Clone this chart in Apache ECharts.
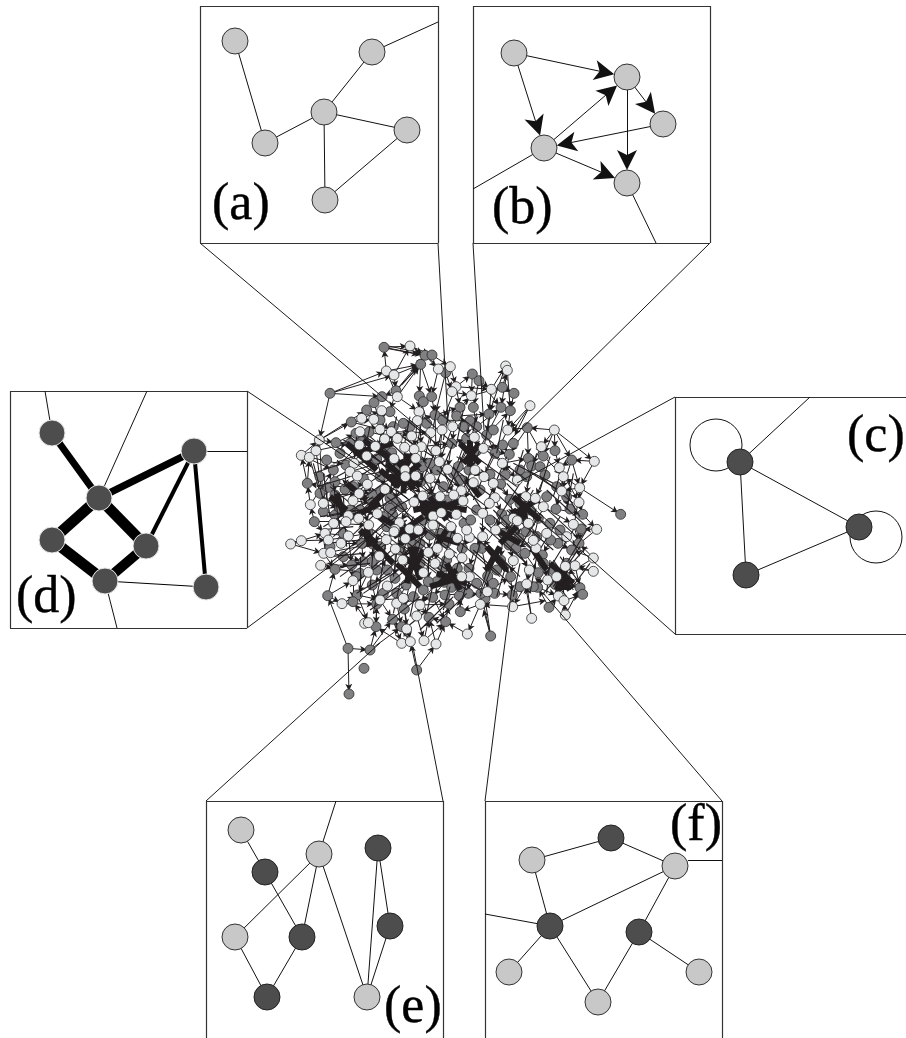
<!DOCTYPE html>
<html><head><meta charset="utf-8">
<script src="https://cdn.jsdelivr.net/npm/echarts@6/dist/echarts.min.js"></script>
<style>html,body{margin:0;padding:0;background:#fff}#c{width:906px;height:1038px}</style></head>
<body><div id="c"></div>
<script>
// ---- panel boxes: x0,y0,x1,y1 segments (page units)
const boxSegments = [
 200,6,438,6, 200,6,200,243, 438,6,438,243, 200,243,438,243,
 473,6,710,6, 473,6,473,243, 710,6,710,243, 473,243,710,243,
 675,397,906,397, 675,397,675,634, 675,634,906,634,
 10,391,247,391, 10,391,10,628, 247,391,247,628, 10,628,247,628,
 206,801,443,801, 206,801,206,1038, 443,801,443,1038,
 485,801,722,801, 485,801,485,1038, 722,801,722,1038];
const connectors = [
 200,243,430,437, 438,243,448,423, 473,243,484,430, 710,243,510,440,
 675,397,517,483, 675,634,513,490, 247,391,407,498, 247,628,408,508,
 206,801,380,643, 443,801,413,647, 485,801,512,587, 722,801,543,593];
// ---- panel nodes
const lightPanelNodes = [[235,41],[265,143],[324,112],[372,52],[407,130],[325,200],
 [514,53],[627,77],[663,124],[544,148],[627,183],
 [241,830],[319,854],[235,937],[367,997],
 [532,860],[675,866],[509,972],[598,1002],[699,972]];
const darkPanelNodes = [[740,462],[859,527],[746,575],
 [265,872],[378,848],[390,926],[302,937],[267,997],
 [611,838],[550,926],[639,932]];
const weightNodes = [[52,433],[194,451],[99,498],[52,540],[146,546],[105,581],[206,587]];
const selfLoops = [[716,445],[876,537]];
const plainPanelEdges = [
 235,41,265,143, 265,143,324,112, 324,112,372,52, 372,52,438,22, 324,112,407,130, 324,112,325,200, 325,200,407,130,
 544,148,473,189, 627,183,656,243,
 740,462,859,527, 740,462,746,575, 859,527,746,575, 740,462,810,397,
 241,830,265,872, 265,872,302,937, 319,854,302,937, 319,854,235,937, 319,854,336,801, 319,854,367,997,
 235,937,267,997, 302,937,267,997, 378,848,390,926, 378,848,367,997, 390,926,367,997,
 532,860,611,838, 611,838,675,866, 532,860,550,926, 675,866,550,926, 675,866,639,932, 550,926,485,914,
 550,926,509,972, 550,926,598,1002, 598,1002,639,932, 639,932,699,972, 688,860,722,860,
 52,433,45,391, 99,498,147,391, 194,451,247,451, 105,581,117,628];
const arrowPanelEdges = [514,53,627,77, 514,53,544,148, 544,148,627,77, 627,77,663,124, 663,124,544,148, 627,77,627,183, 544,148,627,183];
const weightEdges = [[52,433,99,498,7],[99,498,194,451,7],[99,498,52,540,11],[99,498,146,546,11],[52,540,105,581,11],[146,546,105,581,10],[194,451,146,546,4],[194,451,206,587,4],[105,581,206,587,1]];
const panelLabels = [["(a)",212,205],["(b)",492,209],["(c)",847,437],["(d)",16,598],["(e)",384,1008],["(f)",670,826]];

// ---- central network, read in units of 1/3 page pixel
const lightNodes = [[390,48],[475,117],[511,110],[319,123],[342,135],[677,108],[682,121],[528,170],[516,185],[634,178],[574,197],[352,200],[750,227],[417,245],[305,242],[245,265],[281,268],[412,272],[823,300],[683,300],[118,330],[452,308],[486,300],[518,290],[583,322],[300,298],[240,305],[334,305],[314,327],[352,325],[286,349],[395,318],[424,350],[402,358],[374,352],[64,376],[88,382],[108,362],[610,355],[468,362],[260,378],[238,345],[222,400],[210,425],[232,438],[342,386],[407,385],[375,420],[376,440],[407,438],[450,445],[478,395],[503,418],[612,440],[667,400],[784,350],[838,413],[943,394],[850,440],[899,473],[712,450],[580,458],[544,482],[521,495],[585,420],[645,503],[628,520],[428,498],[402,516],[315,478],[262,463],[237,491],[219,512],[130,520],[91,524],[205,557],[236,565],[292,551],[198,575],[161,580],[135,610],[145,630],[64,632],[32,642],[131,670],[152,668],[122,706],[183,640],[205,618],[266,585],[358,578],[345,598],[342,605],[389,597],[415,600],[459,558],[484,548],[513,590],[529,553],[608,550],[549,513],[459,585],[376,626],[319,629],[346,657],[298,678],[368,690],[265,727],[445,667],[472,655],[465,700],[430,728],[532,625],[568,622],[546,683],[508,672],[568,740],[545,740],[700,692],[748,720],[768,655],[760,631],[700,565],[745,580],[712,572],[647,600],[608,620],[766,505],[737,500],[845,483],[897,517],[880,583],[950,598],[940,684],[940,724],[885,707],[856,709],[803,750],[835,798],[852,812],[856,855],[740,762],[698,830],[755,865],[601,823],[622,785],[562,912],[186,821],[254,880],[265,878],[219,752],[322,768],[350,820],[420,825],[410,858],[380,897],[365,940],[391,935],[432,932],[468,942],[370,805],[300,810],[830,740],[790,530],[640,460],[800,610],[860,620],[560,600],[480,500]];
const grayNodes = [[312,52],[435,76],[456,75],[422,103],[497,128],[150,190],[348,182],[306,200],[282,218],[260,240],[214,276],[330,245],[418,198],[430,215],[455,200],[465,255],[577,132],[597,152],[667,172],[702,190],[691,242],[663,232],[540,232],[580,232],[627,252],[570,273],[530,258],[488,270],[590,290],[742,293],[620,315],[560,325],[515,340],[590,362],[645,370],[688,373],[668,345],[745,385],[790,378],[825,362],[875,390],[755,408],[795,435],[168,338],[210,340],[228,310],[267,306],[245,335],[315,350],[335,368],[290,387],[160,420],[198,405],[145,472],[165,455],[82,460],[165,495],[195,478],[130,545],[103,575],[165,555],[180,535],[278,495],[278,520],[303,484],[330,505],[350,517],[330,535],[395,458],[422,455],[428,410],[346,420],[490,470],[520,430],[535,410],[567,420],[630,433],[662,462],[676,435],[690,508],[665,552],[720,520],[775,565],[828,537],[870,537],[908,553],[903,597],[897,640],[875,660],[834,640],[812,630],[738,605],[670,610],[717,625],[687,645],[708,655],[735,670],[787,675],[790,700],[775,728],[855,738],[825,763],[900,773],[908,793],[807,832],[773,772],[697,795],[692,740],[662,690],[623,738],[615,805],[603,790],[644,790],[565,790],[538,797],[605,655],[585,655],[547,655],[498,638],[450,615],[395,640],[430,570],[465,505],[458,505],[525,545],[552,580],[572,570],[490,710],[470,755],[493,757],[515,772],[532,715],[567,715],[445,755],[392,745],[378,765],[345,745],[322,720],[250,695],[277,695],[215,705],[165,718],[143,797],[232,795],[219,815],[277,765],[290,822],[373,837],[458,802],[495,795],[507,822],[541,845],[497,875],[447,862],[338,868],[365,890],[288,890],[204,955],[270,960],[252,1015],[410,1020],[207,1092],[632,918],[1022,553],[265,610],[245,640],[278,642],[320,590],[338,555],[420,640],[400,690],[420,700],
 [300,440],[250,445],[220,470],[240,540],[210,540],[310,560],[365,530],[500,510],[540,450],[600,480],[590,540],[630,570],[680,570],[700,600],[750,540],[800,500],[830,470],[860,500],[810,580],[840,600],[770,620],[860,700],[820,720],[760,770],[720,770],[650,720],[640,760],[590,760],[540,770],[500,690],[480,610],[510,620],[420,670],[360,660],[300,650],[240,730],[290,720],[310,790],[350,790],[400,800],[430,780],[340,290],[390,290],[440,280],[550,290],[640,300],[700,340],[720,420],[780,410],[740,440],[470,420],[450,400],[300,270],[370,280],[180,370],[140,390],[120,440],[120,490],[190,610],[150,650],[190,680],[230,740]];
const outerEdges = [
 312,52,390,48, 312,52,435,76, 325,48,432,70, 320,55,425,75, 390,48,435,76, 390,48,456,75, 319,123,312,52, 342,135,390,48, 342,135,422,103, 348,182,422,103, 352,200,422,103, 348,182,435,76, 319,123,422,103, 358,170,418,108, 365,165,425,100, 422,103,418,198, 435,76,475,117, 456,75,511,110, 435,76,497,128, 422,103,455,200, 475,117,455,200, 497,128,516,185, 511,110,497,128, 497,128,465,255, 511,110,528,170, 150,190,319,123, 150,190,342,135, 150,190,306,200, 150,190,118,330, 118,330,214,276, 118,330,260,240, 342,135,348,182, 319,123,352,200, 348,182,306,200, 306,200,282,218, 348,182,330,245, 418,198,417,245, 455,200,465,255, 430,215,412,272, 418,198,452,308,
 528,170,577,132, 577,132,597,152, 597,152,634,178, 528,170,634,178, 516,185,574,197, 574,197,667,172, 577,132,574,197, 597,152,580,232, 634,178,677,108, 667,172,682,121, 682,121,663,232, 677,108,627,252, 682,121,691,242, 702,190,691,242, 667,172,702,190, 634,178,627,252, 597,152,663,232, 540,232,574,197, 528,170,540,232, 528,170,488,270, 574,197,530,258, 580,232,590,290, 627,252,620,315, 663,232,620,315, 691,242,683,300, 750,227,683,300, 750,227,690,315, 750,227,700,325, 742,293,683,300, 742,293,688,373, 742,293,745,385, 742,293,790,378, 823,300,742,293, 823,300,790,378, 823,300,875,390, 823,300,943,394, 823,300,825,362, 823,300,784,350, 943,394,875,390, 943,394,899,473, 875,390,899,473, 875,390,838,413, 899,473,1022,553, 899,473,850,440, 899,473,845,483, 899,473,897,517,
 897,517,908,553, 908,553,950,598, 950,598,903,597, 903,597,897,640, 950,598,875,660, 940,684,875,660, 940,684,897,640, 940,724,885,707, 940,684,855,738, 940,724,856,709, 908,793,900,773, 900,773,855,738, 856,855,900,773, 856,855,852,812, 852,812,908,793, 835,798,825,763, 807,832,835,798, 807,832,773,772, 740,762,698,830, 755,865,740,762, 755,865,735,760, 698,830,807,810, 698,830,697,795, 698,830,601,823, 601,823,615,805, 601,823,562,912, 562,912,497,875, 632,918,603,790, 632,918,615,805, 632,918,608,830, 601,823,541,845,
 541,845,538,797, 497,875,507,822, 497,875,447,862, 468,942,497,875, 468,942,447,862, 432,932,497,875, 432,932,447,862, 391,935,338,868, 365,940,288,890, 391,935,365,890, 270,960,365,890, 270,960,338,868, 270,960,288,890, 204,955,270,960, 204,955,143,797, 204,955,207,1092, 410,1020,391,935, 410,1020,468,942, 254,880,288,890, 265,878,219,815, 143,797,186,821, 143,797,165,718, 186,821,232,795, 288,890,290,822,
 122,706,165,718, 165,718,250,695, 131,670,165,718, 32,642,64,632, 64,632,135,610, 64,632,145,630, 32,642,131,670, 103,575,135,610, 103,575,91,524, 91,524,82,460, 82,460,64,376, 82,460,88,382, 64,376,118,330, 88,382,108,362, 108,362,118,330, 108,362,130,520, 118,330,130,520, 88,382,130,520, 91,524,160,420, 145,472,82,460, 118,330,168,338, 108,362,210,340, 64,376,160,420, 88,382,198,405];
const innerEdges = [
 168,338,228,310, 168,338,245,335, 210,340,267,306, 228,310,315,350, 245,335,335,368, 267,306,352,325, 214,276,300,298, 260,240,334,305, 282,218,314,327, 330,245,395,318, 417,245,424,350, 412,272,402,358, 465,255,468,362, 488,270,478,395, 530,258,515,340, 570,273,560,325, 590,290,590,362, 620,315,645,370, 668,345,688,373, 683,300,612,440, 620,315,567,420, 560,325,520,430, 515,340,503,418, 452,308,428,410, 486,300,450,445, 518,290,478,395, 583,322,535,410,
 160,420,238,345, 198,405,286,349, 222,400,290,387, 210,425,342,386, 232,438,346,420, 145,472,262,463, 165,455,278,495, 165,495,237,491, 195,478,303,484, 219,512,278,520, 130,545,205,557, 165,555,236,565, 180,535,292,551, 130,520,180,535, 103,575,198,575, 161,580,266,585, 135,610,205,618, 145,630,265,610, 183,640,245,640, 131,670,278,642, 152,668,250,695, 122,706,215,705, 205,618,215,705, 198,575,183,640, 161,580,131,670, 165,495,161,580, 145,472,130,545, 160,420,165,495, 198,405,195,478,
 290,387,315,478, 335,368,375,420, 374,352,376,440, 402,358,407,438, 424,350,422,455, 407,385,395,458, 342,386,330,505, 346,420,350,517, 315,478,338,555, 303,484,320,590, 278,520,292,551, 262,463,278,495, 237,491,266,585, 395,458,428,498, 422,455,465,505, 450,445,458,505, 428,410,490,470, 478,395,521,495, 503,418,544,482, 520,430,580,458, 535,410,612,440, 567,420,630,433, 585,420,662,462, 612,440,640,460, 630,433,645,503, 667,400,676,435, 645,370,712,450, 688,373,676,435, 745,385,712,450, 755,408,737,500, 795,435,766,505, 790,378,850,440, 825,362,838,413, 875,390,845,483, 838,413,897,517, 850,440,828,537, 845,483,870,537, 828,537,908,553, 790,530,880,583, 775,565,860,620, 766,505,790,530, 737,500,775,565, 720,520,745,580, 690,508,700,565, 662,462,690,508, 645,503,665,552, 628,520,608,550, 580,458,549,513, 544,482,529,553, 521,495,525,545, 480,500,484,548, 465,505,459,558, 428,498,430,570, 402,516,358,578, 350,517,338,555, 330,535,345,598, 338,555,389,597,
 389,597,415,600, 415,600,450,615, 459,585,498,638, 513,590,532,625, 552,580,568,622, 572,570,560,600, 608,550,608,620, 665,552,647,600, 700,565,670,610, 712,572,717,625, 745,580,738,605, 775,565,760,631, 800,610,812,630, 860,620,834,640, 880,583,897,640, 903,597,875,660, 834,640,875,660, 812,630,787,675, 768,655,735,670, 760,631,708,655, 738,605,687,645, 670,610,662,690, 647,600,605,655, 608,620,585,655, 568,622,547,655, 532,625,546,683, 498,638,472,655, 450,615,445,667, 420,640,400,690, 395,640,368,690, 376,626,346,657, 319,629,298,678, 320,590,278,642, 342,605,319,629, 345,598,376,626, 265,610,245,640, 266,585,265,610,
 245,640,250,695, 278,642,277,695, 298,678,322,720, 346,657,345,745, 368,690,392,745, 400,690,378,765, 420,700,430,728, 445,667,445,755, 472,655,465,700, 465,700,490,710, 490,710,470,755, 508,672,493,757, 546,683,532,715, 532,715,515,772, 567,715,568,740, 585,655,567,715, 605,655,623,738, 662,690,692,740, 687,645,700,692, 700,692,692,740, 708,655,748,720, 735,670,775,728, 787,675,790,700, 790,700,803,750, 856,709,855,738, 885,707,900,773, 830,740,825,763, 855,738,835,798, 775,728,773,772, 748,720,740,762, 692,740,697,795, 623,738,622,785, 568,740,565,790, 545,740,538,797, 515,772,495,795, 493,757,458,802, 470,755,420,825, 445,755,410,858, 392,745,373,837, 378,765,350,820, 345,745,322,768, 322,720,277,765, 265,727,232,795, 250,695,219,752, 215,705,219,752, 219,752,219,815, 277,765,290,822, 322,768,300,810, 300,810,338,868, 350,820,365,890, 370,805,380,897, 420,825,447,862, 458,802,497,875, 410,858,432,932, 373,837,391,935, 338,868,365,940, 290,822,288,890, 232,795,265,878,
 165,718,265,727, 143,797,219,752, 186,821,290,822, 232,795,300,810, 300,810,370,805, 350,820,458,802, 420,825,507,822, 495,795,565,790, 538,797,603,790, 615,805,644,790, 644,790,697,795, 622,785,692,740, 697,795,740,762, 773,772,835,798, 803,750,900,773, 740,762,803,750,
 214,276,281,268, 245,265,305,242, 281,268,330,245, 352,200,417,245, 412,272,465,255, 465,255,540,232, 488,270,570,273, 530,258,627,252, 590,290,663,232, 620,315,691,242, 300,298,395,318, 334,305,452,308, 424,350,515,340, 468,362,560,325, 590,362,668,345, 610,355,688,373, 667,400,745,385, 784,350,755,408];
// crowded strands in the core, drawn without arrowheads
const coreStrands = [
 170,350,300,440, 190,330,310,400, 210,320,330,420, 230,300,350,390, 250,350,380,470, 270,320,400,430, 290,300,420,420, 320,300,440,400, 350,310,460,380, 160,400,280,360, 170,440,300,370, 190,470,330,380, 210,500,350,400, 240,510,380,410, 270,520,410,430, 300,530,430,450, 330,540,460,470,
 150,470,260,560, 130,500,270,600, 140,560,290,530, 130,590,280,500, 160,620,300,490, 180,650,320,520, 210,680,350,540, 240,700,380,570, 270,720,410,590, 300,740,440,610, 330,760,470,640, 150,700,260,610, 180,740,320,640, 210,770,360,660, 250,790,400,690, 290,810,430,720,
 230,560,380,680, 260,540,410,660, 290,520,440,640, 320,500,470,620, 350,480,500,600, 380,470,530,590, 410,460,560,570, 440,440,590,550, 470,420,620,530, 500,400,650,510, 530,380,680,490, 560,360,710,470, 590,340,740,450,
 400,520,560,640, 370,550,530,670, 340,580,500,700, 310,610,470,730, 360,640,520,760, 400,660,560,780, 440,680,600,780, 480,640,620,760, 520,620,660,740, 560,600,700,720, 600,580,740,700, 640,560,780,680, 680,540,820,660, 720,520,860,640,
 760,500,890,620, 800,480,920,590, 840,460,900,560, 780,440,880,520, 740,420,850,490, 700,400,820,460, 680,460,800,590, 660,500,780,620, 640,540,760,660, 620,580,740,700, 600,620,720,740, 580,660,700,770,
 720,460,640,590, 760,480,680,610, 800,520,720,650, 840,560,760,690, 880,600,800,730, 900,650,820,770, 870,700,790,790, 820,690,880,780, 780,700,860,800, 840,680,900,760,
 480,330,420,470, 520,340,460,480, 560,350,500,490, 600,360,540,500, 640,370,580,510, 680,380,620,520, 440,350,520,470, 480,380,560,500, 520,410,600,530, 400,400,480,520, 360,420,440,540, 320,460,400,580,
 400,560,360,700, 440,570,400,710, 480,580,440,720, 520,590,480,730, 560,610,520,750, 600,640,560,780, 640,660,600,790, 360,600,340,740, 320,620,300,760, 280,650,270,780, 240,680,240,800,
 430,250,410,350, 470,240,450,340, 510,230,490,330, 550,240,530,340, 590,250,570,350, 630,260,610,360, 670,270,650,370, 390,260,370,360, 350,260,330,350, 310,280,290,370, 270,290,250,380, 230,320,220,420, 430,260,530,350, 480,250,590,340, 540,260,640,340, 380,270,480,350, 330,290,420,360,
 230,790,330,730, 270,840,370,770, 320,880,420,800, 370,900,480,810, 420,900,520,800, 470,880,560,790, 280,850,300,750, 340,850,360,760, 390,860,410,770, 440,850,460,760, 490,840,510,770, 540,830,560,760, 600,800,640,700, 650,800,680,700, 700,800,720,700, 750,790,770,680, 800,790,810,690, 850,790,850,680,
 100,430,190,400, 110,470,210,440, 120,520,220,490, 120,560,230,540, 120,600,220,590, 140,640,240,630, 150,680,250,670, 180,710,270,700, 100,400,130,510, 130,430,150,560, 160,460,180,600, 190,500,200,650,
 730,360,700,460, 770,370,740,470, 810,380,780,480, 850,400,820,500, 880,430,860,540, 900,480,880,600, 920,600,860,700, 920,650,850,730, 930,700,870,780];
const coreBundles = [
 340,380,420,470, 350,460,420,400, 360,390,400,480, 330,440,430,440, 380,370,370,490, 320,400,400,470, 400,370,340,470, 250,330,350,400, 220,370,340,340, 300,420,360,470, 200,340,290,420,
 420,520,560,540, 430,550,550,510, 400,500,520,560, 450,500,500,570, 480,500,440,570, 400,540,500,520,
 390,650,420,750, 370,680,440,730, 400,720,430,660, 350,700,420,770, 410,650,380,760,
 470,730,560,760, 500,700,540,780, 450,770,550,740, 480,760,530,720,
 700,500,780,570, 690,560,770,510, 720,490,740,590, 700,540,760,590, 650,600,720,640, 660,640,710,590,
 830,720,870,780, 850,710,850,780, 810,700,880,760, 860,710,830,780,
 240,600,290,640, 260,590,270,650, 150,500,200,540, 170,490,190,550,
 540,340,600,400, 550,400,600,340, 570,330,570,410, 300,560,400,620, 280,640,340,700, 220,560,300,520, 500,600,450,680, 560,450,600,500,
 620,650,680,720, 620,720,660,650, 760,660,800,720, 440,600,360,640, 340,620,430,560, 470,620,540,640, 200,460,260,510, 270,530,330,470];

// ---- helpers
function segs(f){const o=[];for(let i=0;i<f.length;i+=4)o.push([f[i],f[i+1],f[i+2],f[i+3]]);return o;}
function trimEnd(s,r0,r1){const dx=s[2]-s[0],dy=s[3]-s[1],l=Math.hypot(dx,dy)||1;
 return [[s[0]+dx/l*r0,s[1]+dy/l*r0],[s[2]-dx/l*r1,s[3]-dy/l*r1]];}
const INK='#231f20';
const barb='path://M0,-10 L5,10 L0,5 L-5,10 Z';
function lineSeries(name,data,width,color,z,extra,grid){
 return Object.assign({name,type:'lines',coordinateSystem:'cartesian2d',xAxisIndex:grid,yAxisIndex:grid,polyline:false,silent:true,z,
  lineStyle:{color,width,opacity:1,curveness:0},symbol:['none','none'],data},extra||{});
}
function pts(name,data,size,fill,border,bw,grid,z){
 return {name,type:'scatter',xAxisIndex:grid,yAxisIndex:grid,silent:true,z,symbol:'circle',symbolSize:size,
  itemStyle:{color:fill,opacity:1,borderColor:border,borderWidth:bw},data};
}
const chart=echarts.init(document.getElementById('c'),null,{renderer:'canvas'});
chart.setOption({
 animation:false,backgroundColor:'#fff',
 grid:[{left:0,top:0,width:906,height:1038,containLabel:false},{left:280,top:330,width:350,height:380}],
 xAxis:[{show:false,type:'value',min:0,max:906,gridIndex:0},{show:false,type:'value',min:0,max:1050,gridIndex:1}],
 yAxis:[{show:false,type:'value',min:0,max:1038,inverse:true,gridIndex:0},{show:false,type:'value',min:0,max:1140,inverse:true,gridIndex:1}],
 series:[
  lineSeries('inner',segs(innerEdges).map(s=>({coords:trimEnd(s,0,20)})),1,INK,2,{symbol:['none',barb],symbolSize:[5,7]},1),
  lineSeries('outer',segs(outerEdges).map(s=>({coords:trimEnd(s,0,20)})),1,INK,2,{symbol:['none',barb],symbolSize:[5,7]},1),
  pts('gray',grayNodes,10,'#808083','#2a2a2a',0.8,1,3),
  lineSeries('strands',segs(coreStrands).map(s=>({coords:[[s[0],s[1]],[s[2],s[3]]]})),1.1,INK,4,null,1),
  lineSeries('bundles',segs(coreBundles).map(s=>({coords:[[s[0],s[1]],[s[2],s[3]]]})),6,INK,4,null,1),
  pts('light',lightNodes,10,'#e6e7e8','#2a2a2a',0.8,1,5),
  lineSeries('connectors',segs(connectors).map(s=>({coords:[[s[0],s[1]],[s[2],s[3]]]})),1,'#1a1a1a',6,null,0),
  lineSeries('boxes',segs(boxSegments).map(s=>({coords:[[s[0],s[1]],[s[2],s[3]]]})),1.2,'#333',6,null,0),
  pts('loops',selfLoops,52,'rgba(255,255,255,0)','#111',1,0,7),
  lineSeries('panel edges',segs(plainPanelEdges).map(s=>({coords:[[s[0],s[1]],[s[2],s[3]]]})),1,'#111',7,null,0),
  lineSeries('panel arrows',segs(arrowPanelEdges).map(s=>({coords:trimEnd(s,0,23)})),1,'#111',7,{symbol:['none',barb],symbolSize:[9,20]},0),
  lineSeries('weighted',weightEdges.map(s=>({coords:[[s[0],s[1]],[s[2],s[3]]],lineStyle:{width:s[4],color:'#000'}})),1,'#000',7,null,0),
  pts('panel light',lightPanelNodes,26,'#c8c8c8','#333',1,0,8),
  pts('panel dark',darkPanelNodes,26,'#4d4d4d','#222',1,0,8),
  pts('weighted nodes',weightNodes,26,'#4d4d4d','#e8e8e8',1,0,8),
  {name:'labels',type:'scatter',xAxisIndex:0,yAxisIndex:0,silent:true,z:9,symbolSize:0,
   itemStyle:{opacity:1},
   data:panelLabels.map(l=>({value:[l[1],l[2]],name:l[0]})),
   label:{show:true,position:'right',distance:0,formatter:p=>p.name,fontFamily:'Liberation Serif',fontSize:52,color:'#000',textBorderColor:'#000',textBorderWidth:0.4,opacity:1}}
 ]
});
</script></body></html>
